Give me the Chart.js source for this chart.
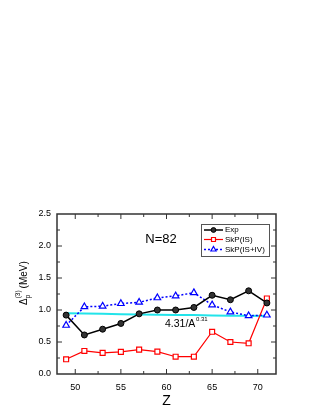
<!DOCTYPE html>
<html lang="en">
<head>
    <meta charset="UTF-8">
    <title>N=82 proton gap</title>
    <style>
        * {
            margin: 0;
            padding: 0;
        }
        body {
            background: #fff;
            width: 319px;
            height: 413px;
            overflow: hidden;
        }
    </style>
</head>
<body>
    <canvas id="gapChart" width="319" height="413"></canvas>

    <script src="https://cdn.jsdelivr.net/npm/chart.js"></script>
    <script>
        // Data
        const zValues = [49, 51, 53, 55, 57, 59, 61, 63, 65, 67, 69, 71];
        const expValues = [0.92, 0.61, 0.70, 0.79, 0.94, 1.00, 1.00, 1.04, 1.23, 1.16, 1.30, 1.11];
        const skpIsValues = [0.23, 0.36, 0.33, 0.345, 0.38, 0.35, 0.27, 0.27, 0.66, 0.50, 0.48, 1.18];
        const skpIsIvValues = [0.76, 1.05, 1.06, 1.10, 1.12, 1.19, 1.22, 1.27, 1.08, 0.97, 0.91, 0.92];
        const fitValues = [0.95, 0.945, 0.94, 0.935, 0.93, 0.925, 0.92, 0.92, 0.915, 0.91, 0.91, 0.905];
        const xTickLabels = [50, 55, 60, 65, 70];
        const yTickLabels = [0.0, 0.5, 1.0, 1.5, 2.0, 2.5];

        const FONT = "'Liberation Sans', Arial, sans-serif";

        function toPoints(values) {
            return zValues.map((z, i) => ({ x: z, y: values[i] }));
        }

        // Frame, inward ticks, labels and legend
        const decorations = {
            id: 'decorations',
            afterDatasetsDraw(chart) {
                const ctx = chart.ctx;
                const area = chart.chartArea;
                const xs = chart.scales.x;
                const ys = chart.scales.y;

                ctx.save();
                ctx.strokeStyle = '#333';
                ctx.lineWidth = 1.5;
                ctx.strokeRect(area.left, area.top, area.right - area.left, area.bottom - area.top);

                ctx.lineWidth = 1;
                ctx.beginPath();
                for (let v = 50; v <= 70; v += 2.5) {
                    const px = xs.getPixelForValue(v);
                    const len = (v % 5 === 0) ? 5 : 3;
                    ctx.moveTo(px, area.bottom); ctx.lineTo(px, area.bottom - len);
                    ctx.moveTo(px, area.top); ctx.lineTo(px, area.top + len);
                }
                for (let v = 0.25; v < 2.5; v += 0.25) {
                    const py = ys.getPixelForValue(v);
                    const len = (Math.round(v * 100) % 50 === 0) ? 5 : 3;
                    ctx.moveTo(area.left, py); ctx.lineTo(area.left + len, py);
                    ctx.moveTo(area.right, py); ctx.lineTo(area.right - len, py);
                }
                ctx.stroke();

                // Axis titles
                ctx.fillStyle = '#000';
                ctx.textAlign = 'center';
                ctx.textBaseline = 'middle';
                ctx.font = '14px ' + FONT;
                ctx.fillText('Z', (area.left + area.right) / 2, 401);

                ctx.save();
                ctx.translate(24, 284);
                ctx.rotate(-Math.PI / 2);
                ctx.textAlign = 'left';
                ctx.font = '10px ' + FONT;
                let tx = -21;
                ctx.fillText('\u0394', tx, 0);
                tx += ctx.measureText('\u0394').width;
                ctx.font = '6.5px ' + FONT;
                ctx.fillText('p', tx, 4);
                ctx.fillText('(3)', tx, -6);
                tx += ctx.measureText('(3)').width + 2;
                ctx.font = '10px ' + FONT;
                ctx.fillText('(MeV)', tx, 0);
                ctx.restore();

                // Annotations
                ctx.font = '13px ' + FONT;
                ctx.fillText('N=82', 161, 239);
                ctx.textAlign = 'left';
                ctx.font = '10.5px ' + FONT;
                ctx.fillText('4.31/A', 165, 324);
                ctx.font = '6px ' + FONT;
                ctx.fillText('0.31', 196, 319);

                // Legend
                const box = { left: 201, top: 224, width: 68, height: 32 };
                ctx.fillStyle = '#fff';
                ctx.fillRect(box.left, box.top, box.width, box.height);
                ctx.strokeStyle = '#555';
                ctx.lineWidth = 1;
                ctx.strokeRect(box.left + 0.5, box.top + 0.5, box.width, box.height);

                const rows = [230, 239.5, 249.5];
                chart.data.datasets.slice(0, 3).forEach((ds, i) => {
                    const y = rows[i];
                    ctx.save();
                    ctx.strokeStyle = ds.borderColor;
                    ctx.lineWidth = ds.borderWidth;
                    ctx.setLineDash(ds.borderDash || []);
                    ctx.beginPath();
                    ctx.moveTo(204, y);
                    ctx.lineTo(223, y);
                    ctx.stroke();
                    ctx.setLineDash([]);
                    ctx.fillStyle = ds.pointBackgroundColor;
                    ctx.strokeStyle = ds.pointBorderColor;
                    ctx.lineWidth = ds.pointBorderWidth;
                    Chart.helpers.drawPoint(ctx, {
                        pointStyle: ds.pointStyle,
                        radius: ds.pointRadius * 0.8,
                        borderWidth: ds.pointBorderWidth,
                        rotation: 0
                    }, 213.5, y);
                    ctx.restore();
                    ctx.fillStyle = '#000';
                    ctx.font = '8px ' + FONT;
                    ctx.textBaseline = 'middle';
                    ctx.fillText(ds.label, 225, y);
                });
                ctx.restore();
            }
        };

        const ctx = document.getElementById('gapChart').getContext('2d');
        new Chart(ctx, {
            type: 'line',
            data: {
                datasets: [
                    {
                        label: 'Exp',
                        data: toPoints(expValues),
                        borderColor: '#000',
                        borderWidth: 1.5,
                        pointStyle: 'circle',
                        pointRadius: 3,
                        pointBackgroundColor: '#333',
                        pointBorderColor: '#000',
                        pointBorderWidth: 1
                    },
                    {
                        label: 'SkP(IS)',
                        data: toPoints(skpIsValues),
                        borderColor: '#ff0000',
                        borderWidth: 1.2,
                        pointStyle: 'rect',
                        pointRadius: 3.5,
                        pointBackgroundColor: '#fff',
                        pointBorderColor: '#ff0000',
                        pointBorderWidth: 1.2
                    },
                    {
                        label: 'SkP(IS+IV)',
                        data: toPoints(skpIsIvValues),
                        borderColor: '#0000ff',
                        borderWidth: 1.5,
                        borderDash: [2, 2],
                        pointStyle: 'triangle',
                        pointRadius: 3.8,
                        pointBackgroundColor: '#fff',
                        pointBorderColor: '#0000ff',
                        pointBorderWidth: 1.2
                    },
                    {
                        label: 'fit',
                        data: toPoints(fitValues),
                        borderColor: '#22e4ea',
                        borderWidth: 2,
                        pointRadius: 0
                    }
                ]
            },
            options: {
                responsive: false,
                animation: false,
                devicePixelRatio: 1,
                layout: {
                    padding: { left: 0, top: 214, right: 43, bottom: 0 }
                },
                plugins: {
                    legend: { display: false },
                    tooltip: { enabled: false }
                },
                scales: {
                    x: {
                        type: 'linear',
                        min: 48,
                        max: 72,
                        grid: { display: false, drawTicks: false },
                        border: { display: false },
                        afterFit(scale) { scale.height = 39; },
                        afterBuildTicks(scale) {
                            scale.ticks = xTickLabels.map(v => ({ value: v }));
                        },
                        ticks: {
                            color: '#000',
                            font: { family: FONT, size: 9 },
                            padding: 8,
                            maxRotation: 0
                        }
                    },
                    y: {
                        min: 0,
                        max: 2.5,
                        grid: { display: false, drawTicks: false },
                        border: { display: false },
                        afterFit(scale) { scale.width = 57; },
                        afterBuildTicks(scale) {
                            scale.ticks = yTickLabels.map(v => ({ value: v }));
                        },
                        ticks: {
                            color: '#000',
                            font: { family: FONT, size: 9 },
                            padding: 6,
                            callback: v => v.toFixed(1)
                        }
                    }
                }
            },
            plugins: [decorations]
        });
    </script>
</body>
</html>
